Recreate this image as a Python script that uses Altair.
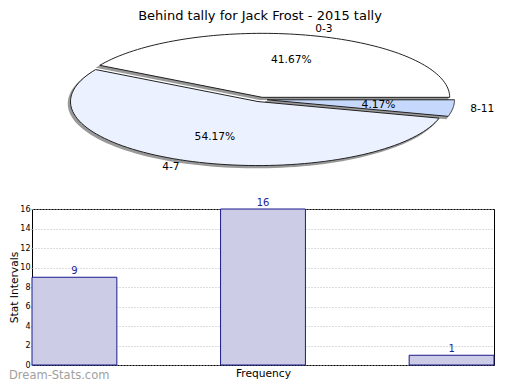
import altair as alt
import pandas as pd

# ---------------- data ----------------
title_text = "Behind tally for Jack Frost - 2015 tally"
pie_cats = ["0-3", "4-7", "8-11"]
pie_pcts = [41.67, 54.17, 4.17]
pie_colors = ["#ffffff", "#ebf1ff", "#c6d9fd"]

bar_cats = ["0-3", "4-7", "8-11"]
bar_vals = [9, 16, 1]
y_ticks = [0, 2, 4, 6, 8, 10, 12, 14, 16]
x_title = "Frequency"
y_title = "Stat Intervals"
watermark = "Dream-Stats.com"

# ---------------- layout (page pixel units) ----------------
FONT = "DejaVu Sans"
PAD_TOP = 2
P_LEFT, P_TOP = 31, 209
W, H = 462, 156
CX, CY, RX, RY = 259.5, 99.5, 187.5, 64.0
EXPL = 0.035
N = 90

xs = alt.Scale(domain=[P_LEFT, P_LEFT + W], zero=False, nice=False)
ys = alt.Scale(domain=[P_TOP, P_TOP + H], zero=False, nice=False, reverse=True)

# ---------------- pie ----------------
pie_df = pd.DataFrame({"cat": pie_cats, "pct": pie_pcts, "idx": list(range(len(pie_cats)))})

pie_base = (
    alt.Chart(pie_df)
    .transform_joinaggregate(total="sum(pct)")
    .transform_window(cum="sum(pct)", sort=[alt.SortField("idx")])
    .transform_calculate(
        a0="2*PI*(datum.cum-datum.pct)/datum.total",
        a1="2*PI*datum.cum/datum.total",
    )
    .transform_calculate(mid="(datum.a0+datum.a1)/2")
    .transform_calculate(
        ox=f"{CX}+{EXPL * RX}*cos(datum.mid)",
        oy=f"{CY}-{EXPL * RY}*sin(datum.mid)",
    )
)


def polygon(dx, dy):
    return (
        pie_base.transform_calculate(k=f"sequence(0, {N + 3})")
        .transform_flatten(["k"])
        .transform_calculate(
            t=f"datum.a0 + (datum.k-1)/{N}*(datum.a1-datum.a0)",
        )
        .transform_calculate(
            px=f"(datum.k==0 || datum.k=={N + 2}) ? datum.ox+({dx}) : datum.ox+({dx})+{RX}*cos(datum.t)",
            py=f"(datum.k==0 || datum.k=={N + 2}) ? datum.oy+({dy}) : datum.oy+({dy})-{RY}*sin(datum.t)",
        )
    )


shadow = polygon(-2, 2).mark_line(fill="#999999", stroke="#999999", strokeWidth=1.5).encode(
    x=alt.X("px:Q", scale=xs, axis=None),
    y=alt.Y("py:Q", scale=ys, axis=None),
    detail="cat:N",
    order="k:Q",
)

slices = polygon(0, 0).mark_line(stroke="#222222", strokeWidth=1).encode(
    x=alt.X("px:Q", scale=xs, axis=None),
    y=alt.Y("py:Q", scale=ys, axis=None),
    detail="cat:N",
    order="k:Q",
    fill=alt.Fill("cat:N", scale=alt.Scale(domain=pie_cats, range=pie_colors), legend=None),
)

pct_labels = pie_base.transform_calculate(
    lx=f"{CX}+{0.635 * RX}*cos(datum.mid)",
    ly=f"{CY}-{0.635 * RY}*sin(datum.mid)",
    txt="format(datum.pct, '.2f') + '%'",
).mark_text(font=FONT, fontSize=10.67, color="black", baseline="middle").encode(
    x=alt.X("lx:Q", scale=xs, axis=None),
    y=alt.Y("ly:Q", scale=ys, axis=None),
    text="txt:N",
)

cat_labels_r = pie_base.transform_calculate(
    lx=f"{CX}+{RX + 24}*cos(datum.mid)",
    ly=f"{CY}-{RY + 9}*sin(datum.mid)",
).transform_filter("cos(datum.mid) >= 0").mark_text(
    font=FONT, fontSize=10.67, color="black", baseline="middle", align="left"
).encode(
    x=alt.X("lx:Q", scale=xs, axis=None),
    y=alt.Y("ly:Q", scale=ys, axis=None),
    text="cat:N",
)

cat_labels_l = pie_base.transform_calculate(
    lx=f"{CX}+{RX + 24}*cos(datum.mid)",
    ly=f"{CY}-{RY + 9}*sin(datum.mid)",
).transform_filter("cos(datum.mid) < 0").mark_text(
    font=FONT, fontSize=10.67, color="black", baseline="middle", align="right"
).encode(
    x=alt.X("lx:Q", scale=xs, axis=None),
    y=alt.Y("ly:Q", scale=ys, axis=None),
    text="cat:N",
)

title = alt.Chart(pd.DataFrame({"t": [title_text]})).transform_calculate(
    x="259", y=f"{8 + PAD_TOP}"
).mark_text(font=FONT, fontSize=13, color="black", baseline="top", align="center").encode(
    x=alt.X("x:Q", scale=xs, axis=None),
    y=alt.Y("y:Q", scale=ys, axis=None),
    text="t:N",
)

wm = alt.Chart(pd.DataFrame({"t": [watermark]})).transform_calculate(
    x="8", y="376"
).mark_text(font=FONT, fontSize=11.5, color="#a0a0a0", baseline="middle", align="left").encode(
    x=alt.X("x:Q", scale=xs, axis=None),
    y=alt.Y("y:Q", scale=ys, axis=None),
    text="t:N",
)

pie_layer = alt.layer(title, shadow, slices, pct_labels, cat_labels_r, cat_labels_l, wm)

# ---------------- bars ----------------
bar_df = pd.DataFrame({"cat": bar_cats, "val": bar_vals})

x_axis = alt.Axis(
    title=x_title, labels=False, ticks=False, domain=False,
    titleFont=FONT, titleFontSize=10.67, titleFontWeight="normal",
    titleColor="black", titlePadding=3,
)
y_axis = alt.Axis(
    values=y_ticks, title=y_title, grid=True, gridDash=[1, 2], gridColor="#bbbbbb",
    domain=False, tickSize=1, tickColor="#999999", labelOverlap=False,
    labelFont=FONT, labelFontSize=8, labelColor="black", labelPadding=1,
    titleFont=FONT, titleFontSize=10.67, titleFontWeight="normal",
    titleColor="black", titlePadding=0,
)
x_scale = alt.Scale(paddingInner=0.55, paddingOuter=0)
y_scale = alt.Scale(domain=[0, 16], nice=False)

bx = alt.X("cat:N", sort=bar_cats, scale=x_scale, axis=x_axis)
by = alt.Y("val:Q", scale=y_scale, axis=y_axis)

bars = alt.Chart(bar_df).mark_bar(fill="#ccccE6", stroke="#1a1a8c", strokeWidth=1).encode(x=bx, y=by)
bar_text = alt.Chart(bar_df).mark_text(
    font=FONT, fontSize=10, color="#1f1f99", baseline="bottom", dy=-1
).encode(x=bx, y=by, text="val:Q")
bar_layer = alt.layer(bars, bar_text)

chart = (
    alt.layer(bar_layer, pie_layer)
    .resolve_scale(x="independent", y="independent")
    .properties(
        width=W, height=H,
        padding={"top": PAD_TOP, "left": 0, "right": 0, "bottom": 0},
    )
    .configure(font=FONT)
    .configure_view(stroke="black", strokeWidth=1)
)

chart.save("out.html", embed_options={"renderer": "svg", "actions": False})
